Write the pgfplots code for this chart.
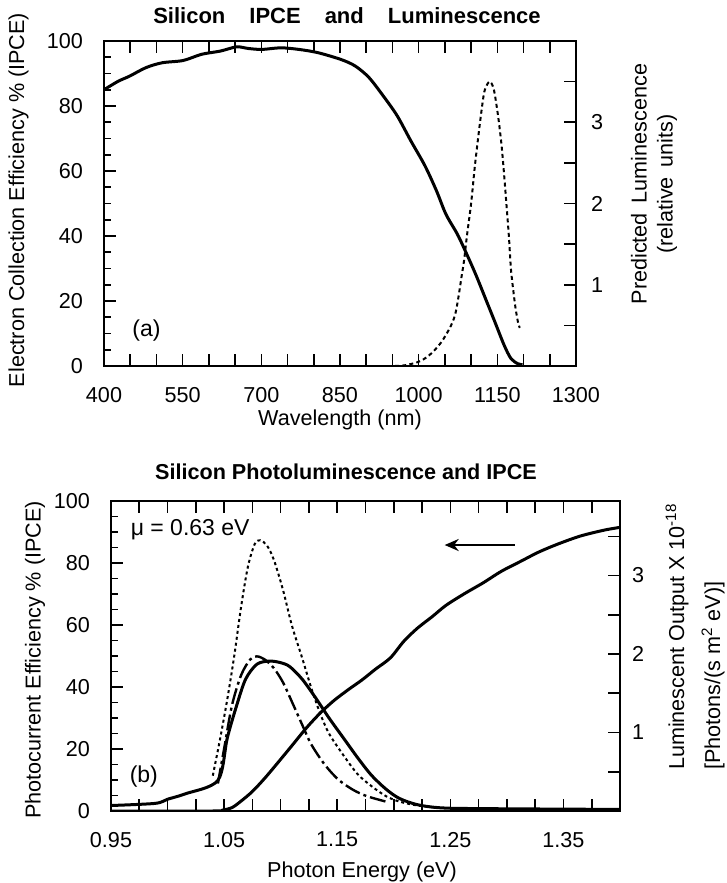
\documentclass[border=0pt]{standalone}
\usepackage{fontspec}
\setmainfont{Liberation Sans}
\usepackage{pgfplots}
\pgfplotsset{compat=1.18}
\usetikzlibrary{arrows.meta}
\newcommand\fsz{\fontsize{10.8bp}{13bp}\selectfont}
\newcommand\tsz{\fontsize{11bp}{13bp}\selectfont\bfseries}
\pgfplotsset{
  base/.style={
    scale only axis, anchor=south west,
    axis line style={line width=1bp},
    tick style={line width=0.8bp, black},
    major tick length=6bp, minor tick length=3.5bp,
    tick align=inside,
    tick label style={font=\fsz},
    xticklabel style={yshift=-7bp},
  },
  topax/.style={base, at={(52bp,258.5bp)}, width=236bp, height=162.5bp, xmin=400, xmax=1300},
  botax/.style={base, at={(55.5bp,36bp)}, width=254.5bp, height=155bp, xmin=0.95, xmax=1.40},
}
\begin{document}
\begin{tikzpicture}
\useasboundingbox (0,0) rectangle (363.5bp,441.5bp);
% ---------------- top panel ----------------
\begin{axis}[topax, ymin=0, ymax=100,
  xtick={400,450,...,1300}, xticklabels={400,,,550,,,700,,,850,,,1000,,,1150,,,1300},
  xtick pos=both,
  ytick={0,20,40,60,80,100}, yticklabels={0,20,40,60,80,100}, minor y tick num=3, ytick pos=left,
  yticklabel style={xshift=-7bp}]
\addplot[black, line width=1.5bp, smooth] coordinates {
(400,85) (427,87.6) (449,89.2) (480,91.8) (511,93.3) (551,94.0) (586,95.9) (622,96.9)
(653,98.2) (675,97.7) (701,97.4) (737,97.9) (772,97.4) (808,96.4) (852,94.3) (879,92.3)
(905,88.8) (932,83.2) (959,77.0) (985,69.3) (1012,61.6) (1034,53.9) (1052,46.7) (1074,40.5)
(1092,34.3) (1109,28.1) (1127,20.9) (1145,13.7) (1163,6.4) (1176,2.3) (1189,0.7) (1198,0.4)};
\node[font=\fontsize{11.5bp}{13bp}\selectfont] at (axis cs:481,11) {(a)};
\end{axis}
\begin{axis}[topax, ymin=0, ymax=4, hide x axis,
  ytick={0.5,1,1.5,2,2.5,3,3.5}, yticklabels={,1,,2,,3,}, ytick pos=right, yticklabel pos=right,
  yticklabel style={xshift=4bp}]
\addplot[black, line width=1bp, dash pattern=on 2bp off 1.6bp, smooth] coordinates {
(955,0.0) (975,0.01) (1003,0.06) (1025,0.16) (1047,0.33) (1069,0.62) (1083,1.15) (1087,1.32)
(1092,1.6) (1100,2.0) (1107,2.45) (1114,2.84) (1120,3.15) (1125,3.37) (1131,3.47) (1136,3.50)
(1141,3.45) (1145,3.35) (1152,3.05) (1158,2.72) (1163,2.35) (1167,2.02) (1172,1.6) (1176,1.19)
(1181,0.9) (1185,0.70) (1190,0.52) (1193,0.47)};
\end{axis}
\node[font=\tsz] at (173.5bp,433.5bp) {Silicon\hspace{12bp}IPCE\hspace{12bp}and\hspace{12bp}Luminescence};
\node[font=\fsz, rotate=90] at (9.25bp,341.5bp) {Electron Collection Efficiency \% (IPCE)};
\node[font=\fsz, rotate=90, align=center] at (327bp,349.5bp) {Predicted\hspace{5bp}Luminescence\\(relative\hspace{5bp}units)};
\node[font=\fsz] at (170bp,231.5bp) {Wavelength (nm)};
% ---------------- bottom panel ----------------
\begin{axis}[botax, ymin=0, ymax=100,
  xtick={0.95,0.975,1.0,1.025,1.05,1.075,1.1,1.125,1.15,1.175,1.2,1.225,1.25,1.275,1.3,1.325,1.35,1.375,1.4},
  xticklabels={0.95,,,,1.05,,,,1.15,,,,1.25,,,,1.35,,},
  xtick pos=both,
  ytick={0,20,40,60,80,100}, yticklabels={0,20,40,60,80,100}, minor y tick num=3, ytick pos=left,
  yticklabel style={xshift=-7bp}]
\addplot[black, line width=1.5bp, smooth] coordinates {
(0.95,0) (1.04,0) (1.0486,0.3) (1.057,1.1) (1.065,3.2) (1.075,6.3) (1.086,10.6) (1.098,15.8)
(1.110,21.1) (1.123,26.9) (1.135,31.6) (1.147,35.6) (1.160,39.2) (1.172,42.3) (1.184,45.8)
(1.197,49.4) (1.209,54.8) (1.221,59.0) (1.234,62.7) (1.246,66.3) (1.262,70.0) (1.279,73.6)
(1.295,77.3) (1.312,80.5) (1.328,83.5) (1.345,86.1) (1.365,88.7) (1.386,90.6) (1.40,91.5)};
\node[font=\fontsize{11.5bp}{13bp}\selectfont] at (axis cs:0.979,11) {(b)};
\node[font=\fontsize{11.5bp}{13bp}\selectfont] at (axis cs:1.02,90.6) {μ = 0.63 eV};
\draw[line width=1.2bp, -{Stealth[length=7bp,width=6bp]}] (axis cs:1.307,85.8) -- (axis cs:1.245,85.8);
\end{axis}
\begin{axis}[botax, ymin=0, ymax=3.95, hide x axis,
  ytick={0.5,1,1.5,2,2.5,3,3.5}, yticklabels={,1,,2,,3,}, ytick pos=right, yticklabel pos=right,
  yticklabel style={xshift=2.5bp}]
% solid luminescence
\addplot[black, line width=1.5bp, smooth] coordinates {
(0.95,0.07) (0.989,0.097) (1.0,0.15) (1.016,0.22) (1.0445,0.39) (1.0528,0.93) (1.061,1.34)
(1.069,1.68) (1.079,1.87) (1.090,1.91) (1.100,1.89) (1.108,1.84) (1.119,1.68) (1.131,1.44)
(1.143,1.18) (1.156,0.92) (1.168,0.68) (1.180,0.46) (1.193,0.28) (1.205,0.16) (1.221,0.08)
(1.242,0.04) (1.28,0.03) (1.40,0.02)};
% dotted
\addplot[black, line width=1bp, dash pattern=on 1.5bp off 1.5bp, smooth] coordinates {
(1.040,0.45) (1.0466,0.93) (1.053,1.44) (1.059,1.98) (1.065,2.60) (1.071,3.11) (1.077,3.40)
(1.082,3.45) (1.088,3.38) (1.094,3.20) (1.102,2.82) (1.110,2.36) (1.119,1.95) (1.127,1.57)
(1.135,1.24) (1.143,0.98) (1.156,0.70) (1.168,0.47) (1.180,0.32) (1.193,0.19) (1.205,0.12)
(1.221,0.07) (1.242,0.04) (1.27,0.03)};
% dash-dot
\addplot[black, line width=1.2bp, dash pattern=on 8bp off 2bp on 1.5bp off 2bp, smooth] coordinates {
(1.0445,0.35) (1.0507,0.85) (1.057,1.35) (1.065,1.73) (1.073,1.93) (1.079,1.97) (1.086,1.93)
(1.094,1.82) (1.102,1.64) (1.110,1.39) (1.119,1.10) (1.127,0.85) (1.139,0.59) (1.151,0.40)
(1.164,0.27) (1.176,0.19) (1.193,0.12)};
\end{axis}
\node[font=\fontsize{10.8bp}{13bp}\selectfont\bfseries] at (173bp,205.5bp) {Silicon Photoluminescence and IPCE};
\node[font=\fsz, rotate=90] at (17.5bp,111.5bp) {Photocurrent Efficiency \% (IPCE)};
\node[font=\fsz, rotate=90, anchor=west] at (338.5bp,53bp) {Luminescent Output X 10\textsuperscript{-18}};
\node[font=\fsz, rotate=90, anchor=west] at (356.5bp,53bp) {[Photons/(s m\textsuperscript{2} eV)]};
\node[font=\fsz] at (181bp,5.5bp) {Photon Energy (eV)};
\end{tikzpicture}
\end{document}
